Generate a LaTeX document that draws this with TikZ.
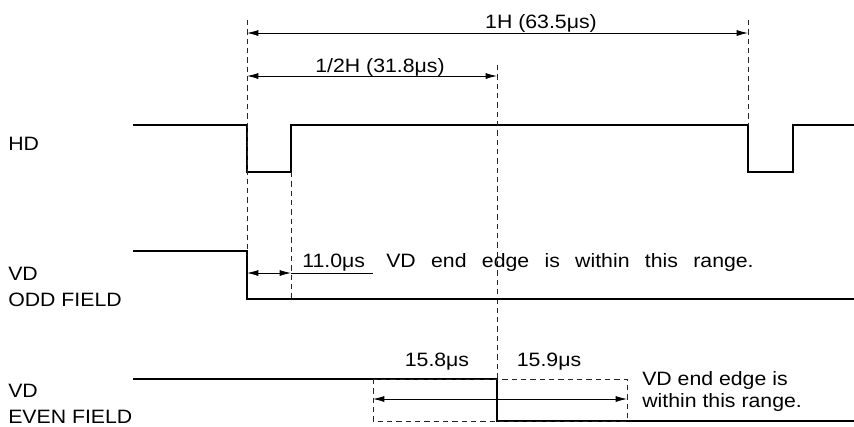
\documentclass[tikz,border=0pt]{standalone}
\usepackage{fontspec}
\setmainfont{Liberation Sans}[FakeStretch=1.1]
\usetikzlibrary{arrows.meta}
\tikzset{>={Latex[width=4.5pt,length=8.5pt]}}

\begin{document}
\begin{tikzpicture}[x=0.75pt,y=-0.75pt,
  signal/.style={line width=1.6pt},
  guide/.style={dash pattern=on 4pt off 3pt, line width=0.5pt, black!85},
  dim/.style={<->, line width=0.6pt},
  lbl/.style={font=\fontsize{14.5}{17}\selectfont, inner sep=0pt, anchor=base west},
  mid/.style={lbl, anchor=base}]

\useasboundingbox (0,0) rectangle (854,426);

%% HD
\node[lbl] (hdname) at (8,150) {HD};
\coordinate (hdfall) at (247,125);
\coordinate (hdrise) at (291,172);
\coordinate (hdnext) at (748,125);
\draw[signal] (133,125) -- (hdfall) |- (hdrise) |- (hdnext) |- (793,172) |- (854,125);

%% guides
\coordinate (gA) at (247,20);
\coordinate (gB) at (748,20);
\coordinate (gC) at (497,65);
\draw[guide] (gA) -- (247,251);
\draw[guide] (hdrise) -- (291,299);
\draw[guide] (gB) -- (hdnext);
\draw[guide] (gC) -- (497,421);

%% 1H and 1/2H
\draw[dim] (247,33) coordinate (hL) -- (748,33) coordinate (hR);
\node[mid] (hlbl) at (541,28) {1H (63.5μs)};
\draw[dim] (247,76) coordinate (hhL) -- (497,76) coordinate (hhR);
\node[mid] (hhlbl) at (380,72) {1/2H (31.8μs)};

%% VD odd field
\node[lbl] (vdodd) at (8,280) {VD};
\node[lbl] (oddname) at (8,306) {ODD FIELD};
\coordinate (oddfall) at (247,251);
\draw[signal] (133,251) -- (oddfall) |- (854,299);
\coordinate (oddA) at (247,273);
\coordinate (oddB) at (291,273);
\coordinate (oddC) at (373,273);
\draw[dim] (oddA) -- (oddB);
\draw[line width=0.6pt] (oddB) -- (oddC);
\node[lbl] (oddval) at (302,267) {11.0μs};
\node[lbl] (oddtxt) at (386,267) {\spaceskip=11.5pt VD end edge is within this range.};

%% VD even field
\node[lbl] (vdeven) at (8,397) {VD};
\node[lbl] (evenname) at (8,423) {EVEN FIELD};
\coordinate (evenfall) at (497,379);
\draw[signal] (133,379) -- (evenfall) |- (854,421);
\draw[guide] (373,379) rectangle (627,421);
\draw[dim] (373,399) coordinate (evA) -- (627,399) coordinate (evB);
\node[mid] (evval1) at (437,366) {15.8μs};
\node[mid] (evval2) at (549,366) {15.9μs};
\node[lbl] (evtxt1) at (642,385) {VD end edge is};
\node[lbl] (evtxt2) at (642,407) {within this range.};
\end{tikzpicture}
\end{document}
